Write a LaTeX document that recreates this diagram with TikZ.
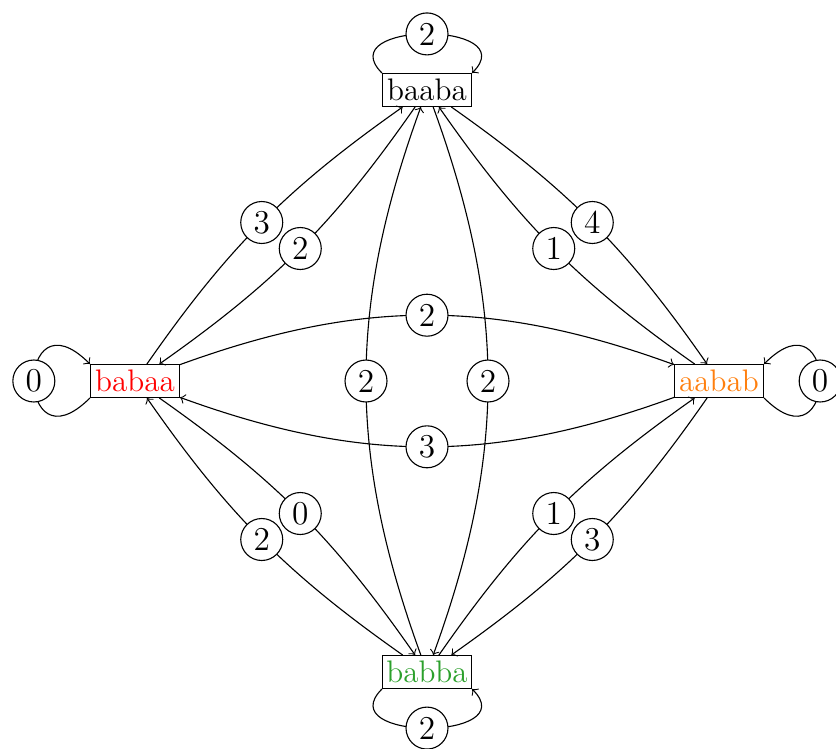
\documentclass[tikz,border=0pt]{standalone}
\usepackage{xcolor}
\definecolor{cred}{HTML}{FF0000}
\definecolor{corange}{HTML}{FF7F0E}
\definecolor{cgreen}{HTML}{2CA02C}
\begin{document}
\begin{tikzpicture}[x=0.3597pt,y=0.3597pt,>=to,
  state/.style={draw, rectangle, minimum width=32pt, minimum height=11.8pt, inner sep=0pt, font=\fontsize{11.2}{13}\selectfont},
  lbl/.style={draw, circle, fill=white, minimum size=15.1pt, inner sep=0pt, font=\fontsize{12}{14}\selectfont},
  arr/.style={->}]
\useasboundingbox (0,0) rectangle (836,748);
\node[state] (baaba) at (427,658) {baaba};
\node[state, text=cred] (babaa) at (135,367) {babaa};
\node[state, text=corange] (aabab) at (719,367) {aabab};
\node[state, text=cgreen] (babba) at (427,76) {babba};

% loops
\draw[arr] (baaba.north west) to[out=135,in=45,looseness=2.1] node[lbl]{2} (baaba.north east);
\draw[arr] (babba.south west) to[out=225,in=315,looseness=2.1] node[lbl]{2} (babba.south east);
\draw[arr] (babaa.south west) to[out=225,in=135,looseness=8] node[lbl]{0} (babaa.north west);
\draw[arr] (aabab.south east) to[out=-45,in=45,looseness=8] node[lbl]{0} (aabab.north east);

% diagonal pairs
\draw[arr] (babaa) to[bend left=10] node[lbl]{3} (baaba);
\draw[arr] (baaba) to[bend left=10] node[lbl]{2} (babaa);
\draw[arr] (baaba) to[bend left=10] node[lbl]{4} (aabab);
\draw[arr] (aabab) to[bend left=10] node[lbl]{1} (baaba);
\draw[arr] (babaa) to[bend left=10] node[lbl]{0} (babba);
\draw[arr] (babba) to[bend left=10] node[lbl]{2} (babaa);
\draw[arr] (aabab) to[bend left=10] node[lbl]{3} (babba);
\draw[arr] (babba) to[bend left=10] node[lbl]{1} (aabab);

% straight pairs
\draw[arr] (babaa) to[bend left=20] node[lbl]{2} (aabab);
\draw[arr] (aabab) to[bend left=20] node[lbl]{3} (babaa);
\draw[arr] (babba) to[bend left=20] node[lbl]{2} (baaba);
\draw[arr] (baaba) to[bend left=20] node[lbl]{2} (babba);
\end{tikzpicture}
\end{document}
